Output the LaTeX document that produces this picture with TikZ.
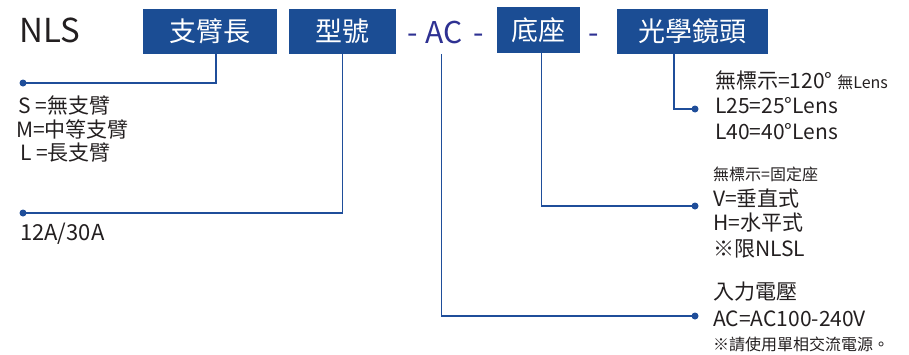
\documentclass[tikz,border=0pt]{standalone}
\usepackage{fontspec}
\setmainfont{Noto Sans CJK TC}
\definecolor{boxblue}{HTML}{1B4D94}
\definecolor{lineblue}{HTML}{1F4E9A}
\definecolor{dashblue}{HTML}{2E3192}
\definecolor{txt}{HTML}{231F20}
\tikzset{
  box/.style={fill=boxblue, text=white, inner sep=0pt, font=\fontsize{27}{27}\selectfont},
  item/.style={anchor=base west, inner sep=0pt, text=txt, font=\fontsize{21}{21}\selectfont},
  smallitem/.style={item, font=\fontsize{16}{16}\selectfont},
  link/.style={draw=lineblue, line width=1.4pt},
  dot/.style={circle, fill=lineblue, inner sep=0pt, minimum size=7pt},
  sep/.style={anchor=base, inner sep=0pt, text=dashblue, font=\fontsize{30}{30}\selectfont},
}
\begin{document}
\begin{tikzpicture}[x=1pt,y=1pt]
\useasboundingbox (0,0) rectangle (909,-354);
% title
\node[anchor=base west, inner sep=0pt, text=txt, font=\fontsize{33}{33}\selectfont] (nls) at (19,-42) {NLS};
% boxes
\node[box, minimum width=134pt, minimum height=45pt] (b1) at (210,-31.5) {支臂長};
\node[box, minimum width=107pt, minimum height=45pt] (b2) at (342.5,-31.5) {型號};
\node[sep] (s1) at (412.5,-43) {-};
\node[sep] (ac) at (444.5,-43) {AC};
\node[sep] (s2) at (479,-43) {-};
\node[box, minimum width=83pt, minimum height=46pt] (b3) at (538.5,-30) {底座};
\node[sep] (s3) at (594,-43) {-};
\node[box, minimum width=151pt, minimum height=45pt] (b4) at (692.5,-31.5) {光學鏡頭};
% dots
\node[dot] (d1) at (23,-83) {};
\node[dot] (d2) at (23,-213) {};
\node[dot] (d3) at (695,-109) {};
\node[dot] (d4) at (695,-206) {};
\node[dot] (d5) at (695,-316) {};
% connectors
\draw[link] ([xshift=6pt]b1.south) |- (d1.center);
\draw[link] (b2.south) |- (d2.center);
\draw[link] ([xshift=-3pt]ac.center |- b2.south) |- (d5.center);
\draw[link] ([xshift=3pt]b3.south) |- (d4.center);
\draw[link] ([xshift=-18.5pt]b4.south) |- (d3.center);
% left texts
\node[item] (l1) at (18,-113) {S =無支臂};
\node[item] (l2) at (16,-137) {M=中等支臂};
\node[item] (l3) at (20,-160) {L =長支臂};
\node[item, font=\fontsize{22}{22}\selectfont] (l4) at (20,-240) {12A/30A};
% lens texts
\node[item] (r1) at (715,-88) {無標示=120° {\fontsize{16}{16}\selectfont 無Lens}};
\node[item] (r2) at (715,-113) {L25=25°Lens};
\node[item] (r3) at (715,-139) {L40=40°Lens};
% base texts
\node[smallitem] (m1) at (713,-180) {無標示=固定座};
\node[item] (m2) at (713,-206) {V=垂直式};
\node[item] (m3) at (713,-230) {H=水平式};
\node[item] (m4) at (713,-256) {※限NLSL};
% AC texts
\node[item] (a1) at (713,-299) {入力電壓};
\node[item] (a2) at (713,-326) {AC=AC100-240V};
\node[smallitem] (a3) at (713,-350) {※請使用單相交流電源。};
\end{tikzpicture}
\end{document}
